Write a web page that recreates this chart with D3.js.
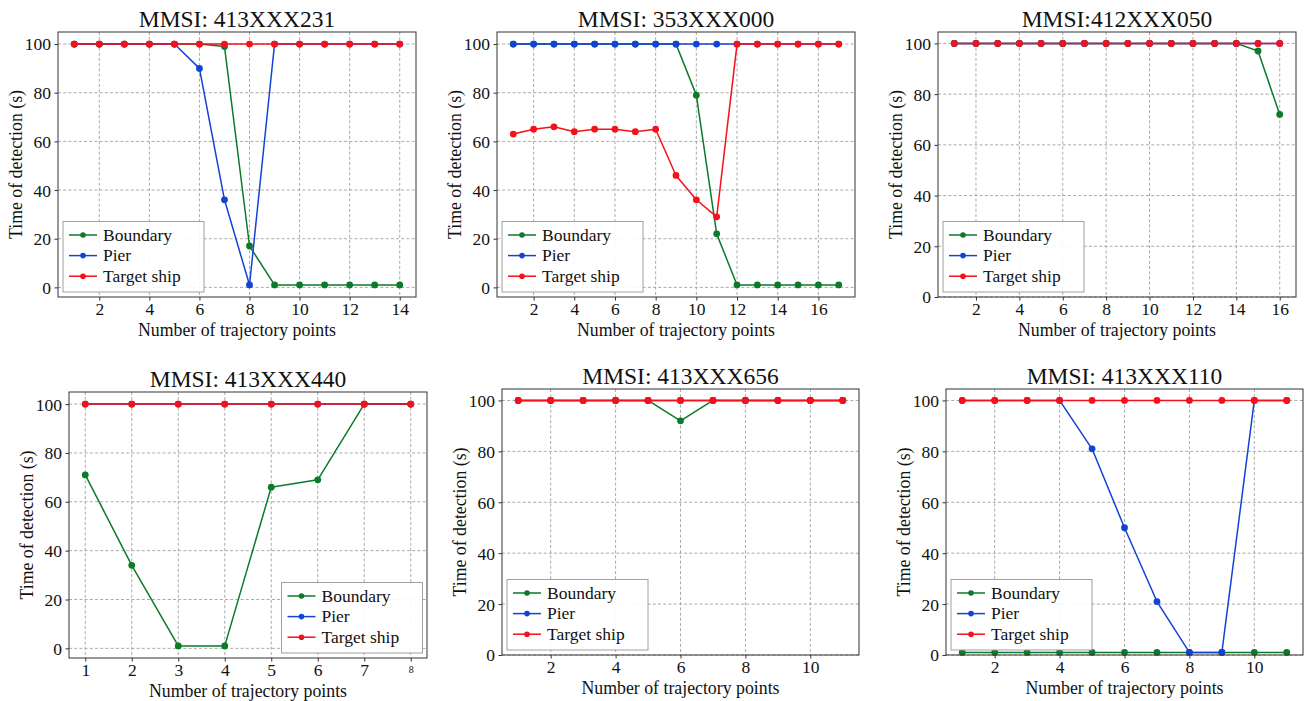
<!DOCTYPE html>
<html>
<head>
<meta charset="utf-8">
<script src="https://cdn.jsdelivr.net/npm/d3@7"></script>
<style>
  html, body { margin: 0; padding: 0; background: #fff; }
  svg { display: block; }
  text { font-family: "Liberation Serif", "Times New Roman", serif; fill: #111; }
</style>
</head>
<body>
<svg id="chart" width="1306" height="701" font-family="Liberation Serif, serif"></svg>
<script>
// ---------- DATA ----------
const seriesNames = ["Boundary", "Pier", "Target ship"];
const seriesColors = ["#0b7a2a", "#1342d6", "#f5101a"];
const titles = ["MMSI: 413XXX231", "MMSI: 353XXX000", "MMSI:412XXX050",
                "MMSI: 413XXX440", "MMSI: 413XXX656", "MMSI: 413XXX110"];
const xLabel = "Number of trajectory points";
const yLabel = "Time of detection (s)";
const yTicks = [0, 20, 40, 60, 80, 100];

// Panel 1: MMSI 413XXX231
const points1   = [1, 2, 3, 4, 5, 6, 7, 8, 9, 10, 11, 12, 13, 14];
const boundary1 = [100, 100, 100, 100, 100, 100, 99, 17, 1, 1, 1, 1, 1, 1];
const pier1     = [100, 100, 100, 100, 100, 90, 36, 1, 100, 100, 100, 100, 100, 100];
const target1   = [100, 100, 100, 100, 100, 100, 100, 100, 100, 100, 100, 100, 100, 100];
const xTicks1   = [2, 4, 6, 8, 10, 12, 14];

// Panel 2: MMSI 353XXX000
const points2   = [1, 2, 3, 4, 5, 6, 7, 8, 9, 10, 11, 12, 13, 14, 15, 16, 17];
const boundary2 = [100, 100, 100, 100, 100, 100, 100, 100, 100, 79, 22, 1, 1, 1, 1, 1, 1];
const pier2     = [100, 100, 100, 100, 100, 100, 100, 100, 100, 100, 100, 100, 100, 100, 100, 100, 100];
const target2   = [63, 65, 66, 64, 65, 65, 64, 65, 46, 36, 29, 100, 100, 100, 100, 100, 100];
const xTicks2   = [2, 4, 6, 8, 10, 12, 14, 16];

// Panel 3: MMSI 412XXX050
const points3   = [1, 2, 3, 4, 5, 6, 7, 8, 9, 10, 11, 12, 13, 14, 15, 16];
const boundary3 = [100, 100, 100, 100, 100, 100, 100, 100, 100, 100, 100, 100, 100, 100, 97, 72];
const pier3     = [100, 100, 100, 100, 100, 100, 100, 100, 100, 100, 100, 100, 100, 100, 100, 100];
const target3   = [100, 100, 100, 100, 100, 100, 100, 100, 100, 100, 100, 100, 100, 100, 100, 100];
const xTicks3   = [2, 4, 6, 8, 10, 12, 14, 16];

// Panel 4: MMSI 413XXX440
const points4   = [1, 2, 3, 4, 5, 6, 7, 8];
const boundary4 = [71, 34, 1, 1, 66, 69, 100, 100];
const pier4     = [100, 100, 100, 100, 100, 100, 100, 100];
const target4   = [100, 100, 100, 100, 100, 100, 100, 100];
const xTicks4   = [1, 2, 3, 4, 5, 6, 7, 8];

// Panel 5: MMSI 413XXX656
const points5   = [1, 2, 3, 4, 5, 6, 7, 8, 9, 10, 11];
const boundary5 = [100, 100, 100, 100, 100, 92, 100, 100, 100, 100, 100];
const pier5     = [100, 100, 100, 100, 100, 100, 100, 100, 100, 100, 100];
const target5   = [100, 100, 100, 100, 100, 100, 100, 100, 100, 100, 100];
const xTicks5   = [2, 4, 6, 8, 10];

// Panel 6: MMSI 413XXX110
const points6   = [1, 2, 3, 4, 5, 6, 7, 8, 9, 10, 11];
const boundary6 = [1, 1, 1, 1, 1, 1, 1, 1, 1, 1, 1];
const pier6     = [100, 100, 100, 100, 81, 50, 21, 1, 1, 100, 100];
const target6   = [100, 100, 100, 100, 100, 100, 100, 100, 100, 100, 100];
const xTicks6   = [2, 4, 6, 8, 10];

// ---------- LAYOUT ----------
const panels = [
  { title: titles[0], x: points1, s: [boundary1, pier1, target1], ticks: xTicks1,
    box: [58, 32, 416, 297], xd: [0.35, 14.65], yd: [-3.95, 104.95], legend: "ll" },
  { title: titles[1], x: points2, s: [boundary2, pier2, target2], ticks: xTicks2,
    box: [497, 32, 855, 297], xd: [0.2, 17.8], yd: [-3.95, 104.95], legend: "ll" },
  { title: titles[2], x: points3, s: [boundary3, pier3, target3], ticks: xTicks3,
    box: [938, 32, 1296, 297], xd: [0.25, 16.75], yd: [0, 104.5], legend: "ll" },
  { title: titles[3], x: points4, s: [boundary4, pier4, target4], ticks: xTicks4,
    box: [69, 392, 427, 658], xd: [0.65, 8.35], yd: [-3.95, 104.95], legend: "lr", smallLast: true },
  { title: titles[4], x: points5, s: [boundary5, pier5, target5], ticks: xTicks5,
    box: [502, 389, 859, 655], xd: [0.5, 11.5], yd: [0, 104.5], legend: "ll" },
  { title: titles[5], x: points6, s: [boundary6, pier6, target6], ticks: xTicks6,
    box: [946, 389, 1303, 655], xd: [0.5, 11.5], yd: [0, 104.5], legend: "ll" }
];

const svg = d3.select("#chart");
const tickFont = 17.5;

panels.forEach(p => {
  const [x0, y0, x1, y1] = p.box;
  const xs = d3.scaleLinear().domain(p.xd).range([x0, x1]);
  const ys = d3.scaleLinear().domain(p.yd).range([y1, y0]);
  const g = svg.append("g");

  // grid
  const grid = g.append("g").attr("stroke", "#a0a0a0").attr("stroke-width", 0.9)
    .attr("stroke-dasharray", "3,2.2");
  p.ticks.forEach(t => grid.append("line")
    .attr("x1", xs(t)).attr("x2", xs(t)).attr("y1", y0).attr("y2", y1));
  yTicks.forEach(t => grid.append("line")
    .attr("x1", x0).attr("x2", x1).attr("y1", ys(t)).attr("y2", ys(t)));

  // axes
  const xAxis = d3.axisBottom(xs).tickValues(p.ticks).tickSizeInner(3.5).tickSizeOuter(0).tickPadding(2.5);
  const yAxis = d3.axisLeft(ys).tickValues(yTicks).tickSizeInner(3.5).tickSizeOuter(0).tickPadding(3.5);
  const gx = g.append("g").attr("transform", `translate(0,${y1})`).call(xAxis);
  const gy = g.append("g").attr("transform", `translate(${x0},0)`).call(yAxis);
  [gx, gy].forEach(a => {
    a.attr("font-family", null).attr("font-size", null);
    a.select(".domain").remove();
    a.selectAll("line").attr("stroke", "#333");
    a.selectAll("text").attr("font-size", tickFont).attr("fill", "#111");
  });
  gx.selectAll("text").attr("dy", "0.66em");
  gy.selectAll("text").attr("dy", "0.34em");
  if (p.smallLast) {
    gx.selectAll("text").filter((d, i, n) => i === n.length - 1)
      .attr("font-size", 10).attr("dy", "0.9em");
  }

  // series lines & markers
  p.s.forEach((vals, si) => {
    const data = p.x.map((xv, i) => [xv, vals[i]]);
    g.append("path").datum(data)
      .attr("fill", "none").attr("stroke", seriesColors[si]).attr("stroke-width", 1.5)
      .attr("stroke-linejoin", "round")
      .attr("d", d3.line().x(d => xs(d[0])).y(d => ys(d[1])));
    g.append("g").selectAll("circle").data(data).join("circle")
      .attr("cx", d => xs(d[0])).attr("cy", d => ys(d[1])).attr("r", 3.4)
      .attr("fill", seriesColors[si]);
  });

  // frame
  g.append("rect").attr("x", x0).attr("y", y0).attr("width", x1 - x0).attr("height", y1 - y0)
    .attr("fill", "none").attr("stroke", "#333").attr("stroke-width", 1);

  // title
  g.append("text").attr("x", (x0 + x1) / 2).attr("y", y0 - 5)
    .attr("text-anchor", "middle").attr("font-size", 23.5).text(p.title);

  // axis labels
  g.append("text").attr("x", (x0 + x1) / 2).attr("y", y1 + 38.5)
    .attr("text-anchor", "middle").attr("font-size", 17.8).text(xLabel);
  g.append("text").attr("transform", `translate(${x0 - 36},${(y0 + y1) / 2}) rotate(-90)`)
    .attr("text-anchor", "middle").attr("font-size", 17.8).text(yLabel);

  // legend
  const lw = 141, lh = 70.5;
  const lx = p.legend === "lr" ? x1 - 4.5 - lw : x0 + 5;
  const ly = y1 - 5 - lh;
  const lg = g.append("g").attr("transform", `translate(${lx},${ly})`);
  lg.append("rect").attr("width", lw).attr("height", lh)
    .attr("fill", "#fff").attr("fill-opacity", 0.9)
    .attr("stroke", "#a0a0a0").attr("stroke-width", 1);
  seriesNames.forEach((name, i) => {
    const cy = 13.5 + i * 20.6;
    lg.append("line").attr("x1", 6).attr("x2", 34).attr("y1", cy).attr("y2", cy)
      .attr("stroke", seriesColors[i]).attr("stroke-width", 1.5);
    lg.append("circle").attr("cx", 20).attr("cy", cy).attr("r", 2.8).attr("fill", seriesColors[i]);
    lg.append("text").attr("x", 40).attr("y", cy).attr("dy", "0.33em")
      .attr("font-size", 17.5).text(name);
  });
});
</script>
</body>
</html>
